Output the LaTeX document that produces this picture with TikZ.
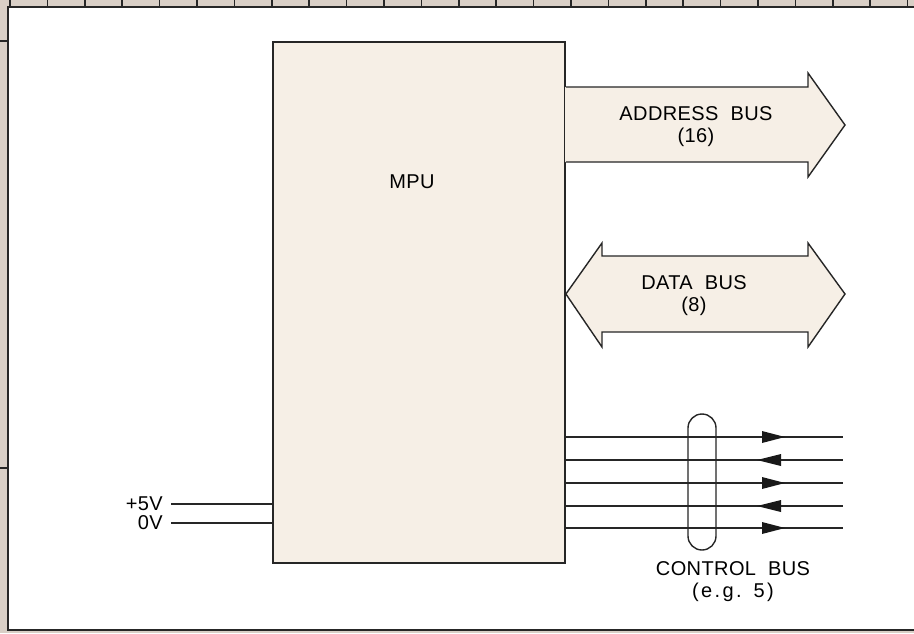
\documentclass[tikz,border=0pt]{standalone}
\usepackage{fontspec}
\newfontfamily\cad{Liberation Sans}[LetterSpace=2]
\newfontfamily\cadw{Liberation Sans}[LetterSpace=12]
\newcommand{\wsp}{\hspace{12pt}}
\begin{document}
\begin{tikzpicture}[x=1pt,y=-1pt,
  line/.style={line width=1.4pt,draw=black!85},
  busfill/.style={fill=cream},
  lbl/.style={font=\cad\fontsize{20}{22}\selectfont,align=center,inner sep=0pt},
  tri/.style={fill=black!90}]
\definecolor{tan}{HTML}{D9CFC6}
\definecolor{cream}{HTML}{F6EFE6}
\useasboundingbox (0,0) rectangle (914,633);
% page frame
\fill[tan] (0,0) rectangle (914,633);
\fill[white] (8,7) rectangle (916,630);
\draw[line width=2pt,black!85] (916,7) -- (8,7) -- (8,630) -- (916,630);
\foreach \i in {0,...,24} \draw[line width=1.5pt,black!85] ({10+37.4*\i},0) -- ({10+37.4*\i},7);
\draw[line width=1.5pt,black!85] (0,41) -- (8,41);
\draw[line width=1.5pt,black!85] (0,468) -- (8,468);
% MPU box
\node[draw=black!85,line width=1.8pt,fill=cream,minimum width=292pt,minimum height=521pt,inner sep=0pt] (mpu) at (419,302.5) {};
\node[lbl] (mpulbl) at (412,182) {MPU};
% address bus
\fill[busfill] (565,87) -- (808,87) -- (808,73) -- (845,125) -- (808,177) -- (808,162) -- (565,162) -- cycle;
\draw[line,line join=miter] (mpu.east |- 0,87) -- (808,87) -- (808,73) -- (845,125) -- (808,177) -- (808,162) -- (mpu.east |- 0,162);
\node[lbl] (addr) at (696,127) {ADDRESS\wsp BUS\\(16)};
% data bus
\coordinate (dtip) at (mpu.east |- 0,294);
\fill[busfill] (dtip) -- (602,243) -- (602,256) -- (808,256) -- (808,243) -- (845,294) -- (808,347) -- (808,332) -- (602,332) -- (602,347) -- cycle;
\draw[line,line join=miter] (dtip) -- (602,243) -- (602,256) -- (808,256) -- (808,243) -- (845,294) -- (808,347) -- (808,332) -- (602,332) -- (602,347) -- cycle;
\node[lbl] (data) at (694,296) {DATA\wsp BUS\\(8)};
% control bus
\foreach \n/\y in {1/437,2/460,3/483,4/506,5/528} {
  \coordinate (c\n) at (843,\y);
  \draw[line] (mpu.east |- c\n) -- (c\n);
}
\foreach \y in {437,483,528} \fill[tri] (762,\y-6) -- (785,\y) -- (762,\y+6) -- cycle;
\foreach \y in {460,506} \fill[tri] (781,\y-6) -- (757,\y) -- (781,\y+6) -- cycle;
\draw[line,rounded corners=14pt] (688,414) rectangle (716,550);
\node[lbl] (ctrl) at (733,582) {CONTROL\wsp BUS\\{\cadw (e.g.\wsp 5)}};
% power
\coordinate (p5) at (171,504);
\coordinate (p0) at (171,523);
\draw[line] (p5) -- (mpu.west |- p5);
\draw[line] (p0) -- (mpu.west |- p0);
\node[lbl,anchor=east] (v5) at (163,504) {+5V};
\node[lbl,anchor=east] (v0) at (163,523) {0V};
\end{tikzpicture}
\end{document}
